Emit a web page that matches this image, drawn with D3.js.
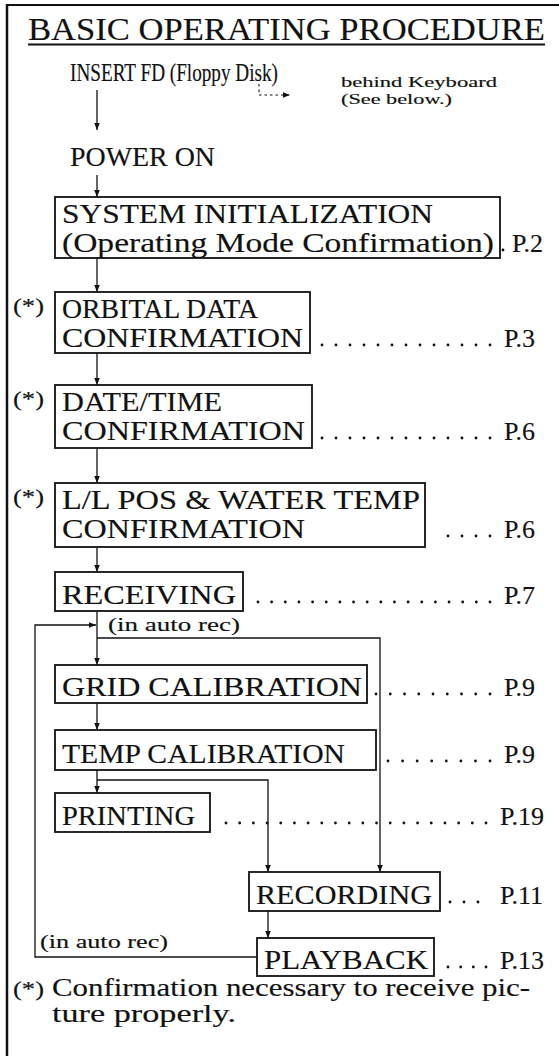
<!DOCTYPE html>
<html><head><meta charset="utf-8">
<script src="https://cdn.jsdelivr.net/npm/d3@7/dist/d3.min.js"></script>
<style>
html,body{margin:0;padding:0;background:#fff;}
svg{display:block;}
text{font-family:"Liberation Serif","Times New Roman",serif;fill:#111;stroke:#111;stroke-width:0.15px;}
</style></head>
<body>
<svg id="c" width="559" height="1056"></svg>
<script>
// ---------- DATA ----------
const title = "BASIC OPERATING PROCEDURE";
const preSteps = ["INSERT FD (Floppy Disk)", "POWER ON"];
const sideNote = ["behind Keyboard", "(See below.)"];
const boxLabels = [
  ["SYSTEM INITIALIZATION", "(Operating Mode Confirmation)"],
  ["ORBITAL DATA", "CONFIRMATION"],
  ["DATE/TIME", "CONFIRMATION"],
  ["L/L POS & WATER TEMP", "CONFIRMATION"],
  ["RECEIVING"],
  ["GRID CALIBRATION"],
  ["TEMP CALIBRATION"],
  ["PRINTING"],
  ["RECORDING"],
  ["PLAYBACK"]
];
const pageRefs = ["P.2", "P.3", "P.6", "P.6", "P.7", "P.9", "P.9", "P.19", "P.11", "P.13"];
const confirmFlags = [false, true, true, true, false, false, false, false, false, false];
const loopLabel = "(in auto rec)";
const noteMark = "(*)";
const footnote = ["Confirmation necessary to receive pic-", "ture properly."];

// ---------- LAYOUT (geometry, kept apart from data) ----------
const L = {
  boxX:  [55, 55, 55, 55, 55, 55, 55, 55, 249, 257],
  boxY:  [197, 292, 385, 483, 572, 665, 730, 793, 872, 938],
  boxW:  [445, 255, 257, 370, 188, 312, 321, 155, 191, 177],
  boxH:  [61, 61, 63, 64, 39, 38, 40, 39, 39, 38],
  textW: [[371, 432], [196, 241], [160, 243], [358, 243], [174], [300], [283], [133], [176], [164]],
  refX:  [512, 504, 504, 504, 504, 504, 504, 500, 500, 500],
  dotFrom: [503, 322, 322, 448, 258, 376, 388, 226, 450, 448],
  dotTo:   [503, 490, 490, 490, 490, 490, 490, 486, 478, 486],
  mainX: 97, branchX: 268, loopRightX: 380, loopLeftX: 35
};

const svg = d3.select("#c");
const g = svg.append("g");
const ink = "#111";

// arrow marker
const defs = svg.append("defs");
defs.append("marker").attr("id", "ah").attr("viewBox", "0 0 10 10")
  .attr("refX", 10).attr("refY", 5).attr("markerWidth", 7).attr("markerHeight", 7)
  .attr("markerUnits", "userSpaceOnUse").attr("orient", "auto")
  .append("path").attr("d", "M0,1 L10,5 L0,9 Z").attr("fill", ink);

// frame
g.append("line").attr("x1", 7).attr("x2", 559).attr("y1", 5).attr("y2", 5)
  .attr("stroke", ink).attr("stroke-width", 2);
g.append("line").attr("x1", 7).attr("x2", 7).attr("y1", 4).attr("y2", 1056)
  .attr("stroke", ink).attr("stroke-width", 2.5);

// helper for fitted text
function fitText(sel, x, y, str, size, width) {
  const t = sel.append("text").attr("x", x).attr("y", y)
    .attr("font-size", size).text(str);
  if (width) t.attr("textLength", width).attr("lengthAdjust", "spacingAndGlyphs");
  return t;
}

// title
fitText(g, 28, 40, title, 32, 517);
g.append("line").attr("x1", 28).attr("x2", 545).attr("y1", 44.5).attr("y2", 44.5)
  .attr("stroke", ink).attr("stroke-width", 1.8);

// pre steps
fitText(g, 70, 81, preSteps[0], 24.5, 208);
fitText(g, 70, 166, preSteps[1], 27, 145);
fitText(g, 341, 87, sideNote[0], 14, 156);
fitText(g, 341, 104, sideNote[1], 14, 111);

// dotted side arrow
g.append("path").attr("d", `M259,84 V95 H290`).attr("fill", "none")
  .attr("stroke", ink).attr("stroke-width", 1.1).attr("stroke-dasharray", "2.5,3")
  .attr("marker-end", "url(#ah)");

function arrow(pts, withHead = true) {
  const p = g.append("path").attr("d", d3.line()(pts)).attr("fill", "none")
    .attr("stroke", ink).attr("stroke-width", 1.3);
  if (withHead) p.attr("marker-end", "url(#ah)");
  return p;
}

// connectors
const mx = L.mainX;
arrow([[mx, 90], [mx, 130]]);
arrow([[mx, 175], [mx, L.boxY[0]]]);
for (let i = 0; i < 7; i++) {
  arrow([[mx, L.boxY[i] + L.boxH[i]], [mx, L.boxY[i + 1]]]);
}
// receiving -> right branch -> recording
arrow([[mx, 638], [L.loopRightX, 638], [L.loopRightX, L.boxY[8]]]);
// temp -> recording branch
arrow([[mx, 780], [L.branchX, 780], [L.branchX, L.boxY[8]]]);
// recording -> playback
arrow([[L.branchX, L.boxY[8] + L.boxH[8]], [L.branchX, L.boxY[9]]]);
// playback loop back
const pbMid = L.boxY[9] + L.boxH[9] / 2;
arrow([[L.boxX[9], pbMid], [L.loopLeftX, pbMid], [L.loopLeftX, 625], [mx - 1, 625]]);

// loop labels
fitText(g, 108, 631, loopLabel, 18, 132);
fitText(g, 40, 948, loopLabel, 18, 128);

// boxes
const boxes = g.selectAll("g.box").data(boxLabels).join("g").attr("class", "box");
boxes.append("rect")
  .attr("x", (d, i) => L.boxX[i]).attr("y", (d, i) => L.boxY[i])
  .attr("width", (d, i) => L.boxW[i]).attr("height", (d, i) => L.boxH[i])
  .attr("fill", "#fff").attr("stroke", ink).attr("stroke-width", 1.8);
boxes.each(function (lines, i) {
  const sel = d3.select(this);
  lines.forEach((ln, j) => {
    const y = lines.length === 2 ? L.boxY[i] + (j === 0 ? 26 : 55) : L.boxY[i] + L.boxH[i] - 7;
    fitText(sel, L.boxX[i] + 7, y, ln, 28, L.textW[i][j]);
  });
  const baseY = lines.length === 2 ? L.boxY[i] + 55 : L.boxY[i] + L.boxH[i] - 7;
  // leader dots
  const n = Math.max(1, Math.round((L.dotTo[i] - L.dotFrom[i]) / 14) + 1);
  const xs = n === 1 ? [L.dotFrom[i]] : d3.range(n).map(k => L.dotFrom[i] + k * (L.dotTo[i] - L.dotFrom[i]) / (n - 1));
  sel.selectAll("circle").data(xs).join("circle")
    .attr("cx", d => d).attr("cy", baseY - 2).attr("r", 1.4).attr("fill", ink);
  fitText(sel, L.refX[i], baseY, pageRefs[i], 26);
  if (confirmFlags[i]) {
    fitText(sel, 13, L.boxY[i] + 21, noteMark, 22, 31);
  }
});

// footnote
fitText(g, 13, 996, noteMark, 22, 31);
fitText(g, 52, 996, footnote[0], 25, 478);
fitText(g, 52, 1022, footnote[1], 25, 184);
</script>
</body></html>
